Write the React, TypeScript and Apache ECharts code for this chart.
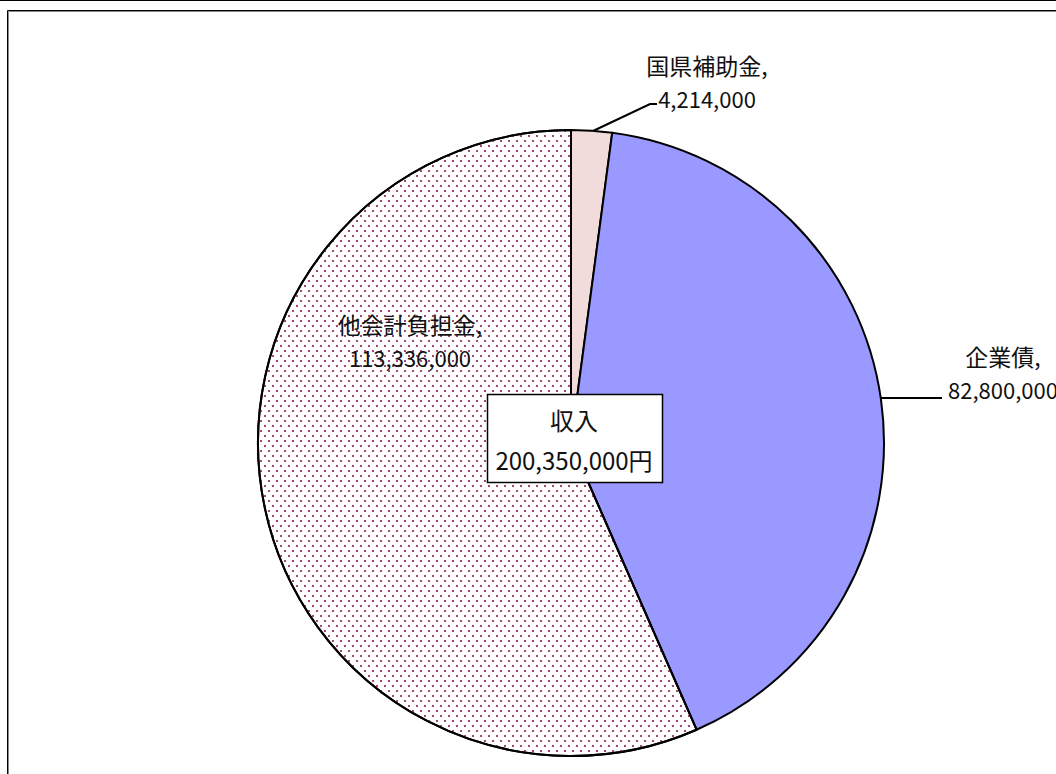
import React, { useEffect, useRef } from "react";
import * as echarts from "echarts";

const categories = ["国県補助金", "企業債", "他会計負担金"];
const values = [4214000, 82800000, 113336000];
const sliceColors = ["#F2DCDB", "#9999FF", "#FFFFFF"];
const centerTitle = "収入";
const currencyUnit = "円";

const fmt = (v: number) => v.toLocaleString("en-US");

const labelPlacement = [
  { x: 707, y: 81, line: [[593, 131], [650, 104], [657, 104]] },
  { x: 1003, y: 372, line: [[881, 398], [912, 398], [942, 398]] },
  { x: 410, y: 340, line: null as null | number[][] },
];

const JP = '"Noto Sans CJK JP", "Noto Sans", sans-serif';

export default function App() {
  const ref = useRef<HTMLDivElement>(null);
  useEffect(() => {
    if (!ref.current) return;
    const chart = echarts.init(ref.current, undefined, { renderer: "svg" });
    const total = values.reduce((a, b) => a + b, 0);
    const data = categories.map((name, i) => ({
      name,
      value: values[i],
      itemStyle:
        i === 2
          ? {
              color: sliceColors[i],
              decal: {
                symbol: "rect",
                symbolSize: 0.9,
                color: "#993366",
                dashArrayX: [
                  [2, 6],
                  [0, 4, 2, 2],
                ],
                dashArrayY: [2, 3],
                rotation: 0,
              },
            }
          : { color: sliceColors[i] },
      labelLine: { show: labelPlacement[i].line !== null },
    }));
    chart.setOption({
      animation: false,
      backgroundColor: "#ffffff",
      series: [
        {
          type: "pie",
          center: [571, 443],
          radius: [0, 313],
          startAngle: 90,
          clockwise: true,
          avoidLabelOverlap: false,
          silent: true,
          data,
          itemStyle: { borderColor: "#000000", borderWidth: 2 },
          label: {
            show: true,
            position: "outside",
            color: "#000",
            formatter: (p: any) => `{n|${p.name},}\n{v|${fmt(p.value)}}`,
            rich: {
              n: { fontSize: 23, lineHeight: 33, fontFamily: JP, color: "#111" },
              v: { fontSize: 22, lineHeight: 33, fontFamily: JP, color: "#111" },
            },
          },
          labelLine: {
            show: true,
            smooth: false,
            length: 20,
            length2: 10,
            lineStyle: { color: "#000", width: 2 },
          },
          labelLayout: (params: any) => {
            const p = labelPlacement[params.dataIndex];
            const o: any = { x: p.x, y: p.y, align: "center", verticalAlign: "middle" };
            if (p.line) o.labelLinePoints = p.line;
            return o;
          },
        },
      ],
      graphic: [
        { type: "line", shape: { x1: 0, y1: 0.5, x2: 1056, y2: 0.5 }, style: { stroke: "#000", lineWidth: 1 }, silent: true },
        { type: "rect", shape: { x: 7.5, y: 10.5, width: 1100, height: 800 }, style: { fill: "none", stroke: "#000", lineWidth: 1 }, silent: true },
        { type: "rect", shape: { x: 8.5, y: 11.5, width: 1100, height: 800 }, style: { fill: "none", stroke: "#888", lineWidth: 1 }, silent: true },
        {
          type: "rect",
          shape: { x: 487.5, y: 394.5, width: 175, height: 88 },
          style: { fill: "#fff", stroke: "#000", lineWidth: 1.5 },
          z: 100,
          silent: true,
        },
        {
          type: "text",
          x: 574,
          y: 419,
          z: 101,
          silent: true,
          style: {
            text: centerTitle,
            fontSize: 24,
            fontFamily: JP,
            fill: "#111",
            align: "center",
            verticalAlign: "middle",
            textAlign: "center",
            textVerticalAlign: "middle",
          },
        },
        {
          type: "text",
          x: 574,
          y: 459,
          z: 101,
          silent: true,
          style: {
            text: fmt(total) + currencyUnit,
            fontSize: 24,
            fontFamily: JP,
            fill: "#111",
            align: "center",
            verticalAlign: "middle",
            textAlign: "center",
            textVerticalAlign: "middle",
          },
        },
      ],
    });
    return () => chart.dispose();
  }, []);
  return (
    <div
      ref={ref}
      style={{ position: "fixed", left: 0, top: 0, width: 1056, height: 774 }}
    />
  );
}
